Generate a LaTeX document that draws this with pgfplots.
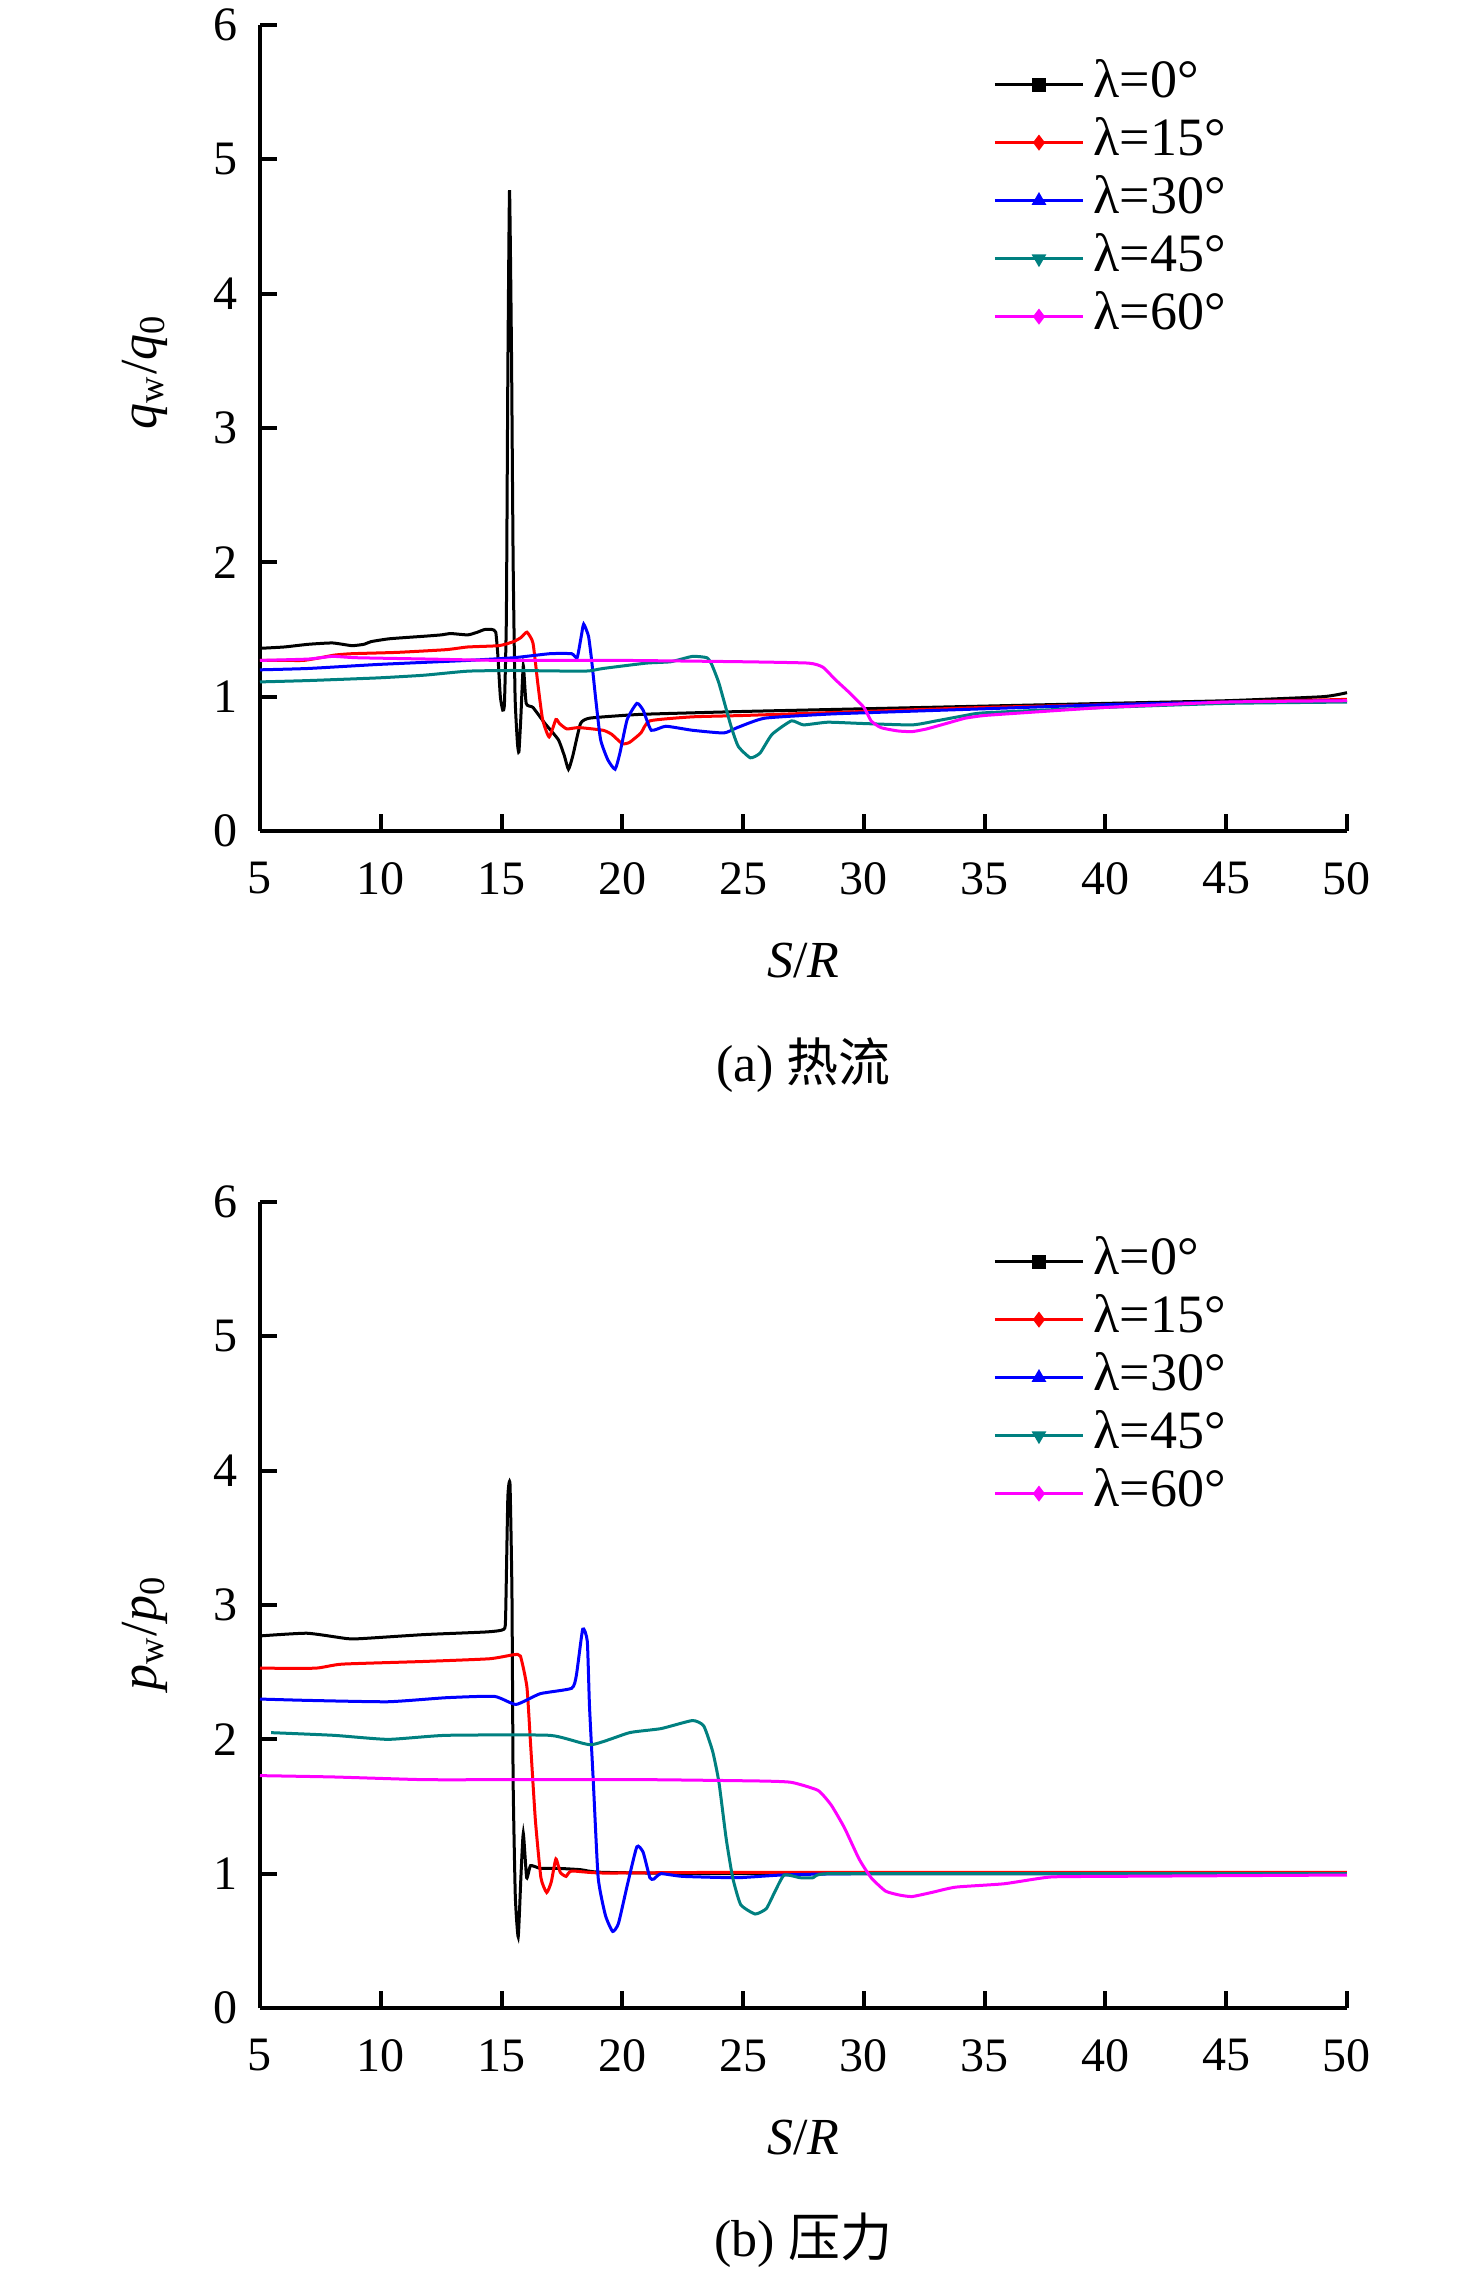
\documentclass[border=0pt]{standalone}
\usepackage{fontspec}
\setmainfont{Liberation Serif}
\newfontfamily\cjk{Noto Sans CJK SC}
\usepackage{pgfplots}
\pgfplotsset{compat=1.18}
\definecolor{cblack}{RGB}{0,0,0}
\definecolor{cred}{RGB}{255,0,0}
\definecolor{cblue}{RGB}{0,0,255}
\definecolor{cteal}{RGB}{0,128,128}
\definecolor{cmag}{RGB}{255,0,255}
\pgfplotsset{
  mystyle/.style={
    scale only axis, width=271.75pt, height=201.5pt,
    xmin=5, xmax=50, ymin=0, ymax=6,
    xtick={5,10,...,50}, ytick={0,1,...,6},
    axis lines=left,
    axis line style={-, line width=1pt},
    tick align=inside, major tick length=4.3pt,
    tick style={line width=1pt, black},
    /pgf/number format/assume math mode=true,
    tick label style={font=\fontsize{12}{14}\selectfont},
    xticklabel style={yshift=-4.3pt},
    yticklabel style={xshift=-2pt},
    clip=false,
    every axis x label/.style={at={(axis description cs:0.5,0)}, anchor=center, yshift=-32.5pt, font=\fontsize{13}{15}\selectfont},
    legend cell align=left,
    legend style={draw=none, fill=none, at={(0.663,0.968)}, anchor=north west,
      font=\fontsize{13.5}{15}\selectfont,
      nodes={inner ysep=0.5pt, inner xsep=0.5pt, text height=9pt, text depth=2.5pt},
      /tikz/every odd column/.append style={column sep=1.8pt},
      row sep=2pt},
    legend image code/.code={
      \draw[##1,mark=none] (0pt,0pt) -- (22pt,0pt);
      \draw[##1,mark repeat=1,mark phase=1] plot coordinates {(11pt,0pt)};
    },
    every axis plot/.append style={line width=0.75pt, smooth, tension=0.3, mark repeat=1000, mark phase=1000, mark size=1.4pt},
  }
}
\begin{document}
\begin{tikzpicture}
\useasboundingbox (0,0) rectangle (369pt,-568pt);
% ---------------- top: heat flux ----------------
\begin{axis}[mystyle, at={(65pt,-207.75pt)}, anchor=south west,
  xlabel={\textit{S}/\textit{R}},
  every axis y label/.style={at={(axis description cs:0,0.57)}, xshift=-28.75pt, rotate=90, anchor=center, font=\fontsize{13}{15}\selectfont},
  ylabel={\textit{q}\textsubscript{w}/\textit{q}\textsubscript{0}}]
\addplot[cblack, mark=square*] coordinates {
(5,1.36) (6,1.37) (7,1.39) (8,1.40) (8.8,1.38) (9.3,1.39) (9.6,1.41) (10.3,1.43) (11,1.44) (11.8,1.45) (12.5,1.46) (12.9,1.47) (13.6,1.46) (14.0,1.48) (14.3,1.50) (14.6,1.50) (14.76,1.48) (14.85,1.30) (14.95,1.00) (15.05,0.90) (15.12,0.95) (15.2,1.6) (15.26,3.4) (15.33,4.77) (15.41,3.6) (15.48,2.0) (15.56,1.0) (15.66,0.65) (15.72,0.59) (15.8,0.85) (15.9,1.23) (16.02,0.95) (16.3,0.92) (16.8,0.80) (17.35,0.68) (17.6,0.56) (17.77,0.46) (17.95,0.56) (18.27,0.80) (18.64,0.84) (20,0.86) (21,0.87) (25,0.89) (30,0.91) (35,0.93) (40,0.95) (45,0.97) (49,1.00) (50,1.03)
};
\addlegendentry{λ=0°}
\addplot[cred, mark=diamond*] coordinates {
(5,1.27) (6,1.27) (6.8,1.27) (7.5,1.29) (8.1,1.31) (8.8,1.32) (10.7,1.33) (12.7,1.35) (13.6,1.37) (14.9,1.38) (15.5,1.41) (15.8,1.44) (16.05,1.48) (16.3,1.40) (16.5,1.10) (16.7,0.83) (16.97,0.70) (17.25,0.83) (17.4,0.80) (17.7,0.76) (18.2,0.77) (19.2,0.75) (19.56,0.72) (20.0,0.65) (20.3,0.66) (20.77,0.73) (21.14,0.82) (22.9,0.85) (25,0.86) (30,0.89) (35,0.92) (40,0.94) (45,0.96) (50,0.98)
};
\addlegendentry{λ=15°}
\addplot[cblue, mark=triangle*] coordinates {
(5,1.20) (7,1.21) (9.9,1.24) (13.6,1.27) (15.5,1.29) (17,1.32) (17.9,1.32) (18.13,1.29) (18.3,1.45) (18.4,1.54) (18.6,1.45) (18.73,1.27) (18.9,0.98) (19.1,0.68) (19.4,0.53) (19.7,0.46) (19.9,0.58) (20.2,0.83) (20.6,0.95) (20.86,0.90) (21.2,0.75) (21.8,0.78) (22.9,0.75) (24.2,0.73) (24.76,0.77) (25.9,0.84) (28.5,0.87) (30,0.88) (35,0.91) (40,0.94) (45,0.96) (50,0.97)
};
\addlegendentry{λ=30°}
\addplot[cteal, mark=triangle*, mark options={rotate=180}] coordinates {
(5,1.11) (7,1.12) (9.9,1.14) (11.8,1.16) (13.6,1.19) (15.5,1.195) (18.45,1.19) (19.2,1.21) (21,1.25) (22,1.26) (22.9,1.30) (23.5,1.29) (23.7,1.24) (24,1.10) (24.5,0.78) (24.8,0.63) (25.3,0.545) (25.7,0.58) (26.2,0.72) (27,0.82) (27.5,0.79) (28.5,0.81) (30,0.80) (32,0.79) (33,0.82) (34.2,0.86) (35,0.88) (40,0.92) (45,0.95) (50,0.96)
};
\addlegendentry{λ=45°}
\addplot[cmag, mark=diamond*] coordinates {
(5,1.27) (7,1.28) (8,1.30) (9,1.29) (12,1.28) (15,1.27) (20,1.27) (25,1.26) (27.7,1.25) (28.3,1.22) (28.8,1.13) (29.4,1.03) (30,0.92) (30.3,0.82) (30.7,0.77) (31.4,0.745) (32,0.74) (32.6,0.76) (33.4,0.80) (34.2,0.84) (35,0.86) (36.6,0.88) (40,0.92) (45,0.96) (50,0.97)
};
\addlegendentry{λ=60°}
\node[font=\fontsize{13}{15}\selectfont] at (axis description cs:0.5,0) [yshift=-58.5pt] {(a) {\cjk 热流}};
\end{axis}
% ---------------- bottom: pressure ----------------
\begin{axis}[mystyle, at={(65pt,-502pt)}, anchor=south west,
  xlabel={\textit{S}/\textit{R}},
  every axis y label/.style={at={(axis description cs:0,0.465)}, xshift=-28.75pt, rotate=90, anchor=center, font=\fontsize{13}{15}\selectfont},
  ylabel={\textit{p}\textsubscript{w}/\textit{p}\textsubscript{0}}]
\addplot[cblack, mark=square*] coordinates {
(5,2.77) (6.95,2.79) (8.6,2.75) (9.2,2.75) (11.8,2.78) (14.4,2.80) (15.1,2.82) (15.17,2.93) (15.26,3.80) (15.35,3.90) (15.43,3.1) (15.48,1.68) (15.57,0.83) (15.69,0.53) (15.8,0.97) (15.9,1.30) (16.04,0.97) (16.2,1.06) (16.6,1.04) (17.3,1.04) (18.27,1.03) (19.2,1.01) (25,1.0) (50,1.0)
};
\addlegendentry{λ=0°}
\addplot[cred, mark=diamond*] coordinates {
(5,2.53) (7.3,2.53) (8.4,2.56) (11.8,2.58) (14.5,2.60) (15.5,2.63) (15.78,2.62) (16.05,2.39) (16.2,1.97) (16.4,1.40) (16.63,0.97) (16.87,0.86) (17.06,0.94) (17.25,1.11) (17.43,1.01) (17.67,0.98) (17.9,1.02) (19.2,1.005) (25,1.01) (50,1.01)
};
\addlegendentry{λ=15°}
\addplot[cblue, mark=triangle*] coordinates {
(5,2.30) (7,2.29) (10.3,2.28) (12.7,2.31) (14.7,2.32) (15.6,2.26) (16.6,2.34) (17.9,2.38) (18.1,2.48) (18.36,2.82) (18.55,2.73) (18.64,2.25) (18.8,1.68) (19.0,0.97) (19.3,0.69) (19.6,0.57) (19.84,0.63) (20.2,0.91) (20.6,1.20) (20.86,1.16) (21.14,0.97) (21.3,0.96) (21.6,1.0) (22.5,0.98) (24.75,0.97) (26.6,0.99) (30,1.0) (50,1.0)
};
\addlegendentry{λ=30°}
\addplot[cteal, mark=triangle*, mark options={rotate=180}] coordinates {
(5.46,2.05) (8.06,2.03) (10.3,2.0) (12.7,2.03) (17,2.03) (18.7,1.96) (20.3,2.05) (21.6,2.08) (22.9,2.14) (23.37,2.10) (23.74,1.91) (24,1.68) (24.3,1.26) (24.57,0.97) (24.9,0.77) (25.5,0.70) (25.96,0.74) (26.3,0.86) (26.7,0.99) (27.36,0.97) (27.9,0.97) (28.5,1.0) (35,1.0) (50,1.0)
};
\addlegendentry{λ=45°}
\addplot[cmag, mark=diamond*] coordinates {
(5,1.73) (8.06,1.72) (11.8,1.70) (15.5,1.70) (21,1.70) (25.7,1.69) (27,1.68) (28.1,1.62) (28.65,1.51) (29.2,1.34) (29.8,1.11) (30.3,0.97) (30.9,0.87) (31.5,0.84) (32,0.83) (32.8,0.86) (33.8,0.90) (35.8,0.925) (37.7,0.975) (40,0.98) (50,0.99)
};
\addlegendentry{λ=60°}
\node[font=\fontsize{13}{15}\selectfont] at (axis description cs:0.5,0) [yshift=-58pt] {(b) {\cjk 压力}};
\end{axis}
\end{tikzpicture}
\end{document}
